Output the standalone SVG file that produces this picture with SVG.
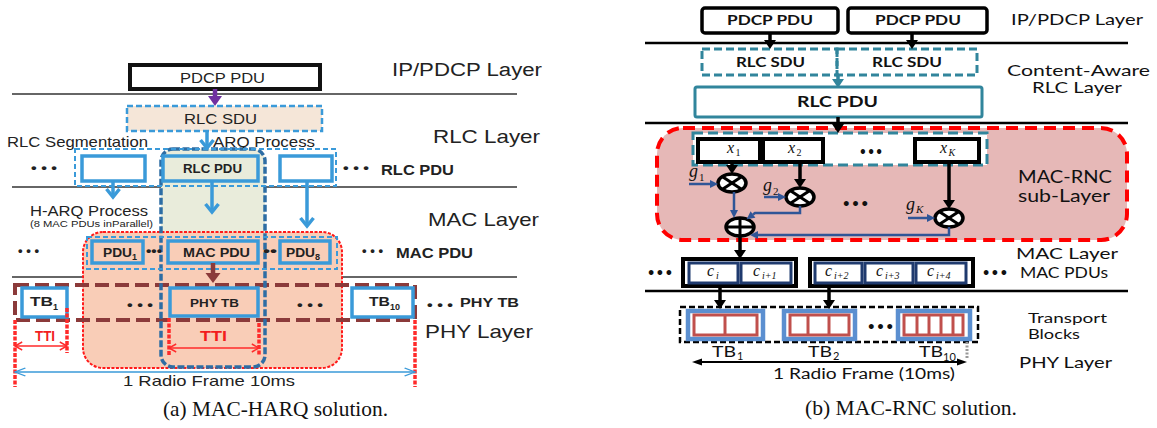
<svg xmlns="http://www.w3.org/2000/svg" width="1157" height="428" viewBox="0 0 1157 428">
<defs>
<style>
marker{overflow:visible}
.ls{font-family:"Liberation Sans",Arial,sans-serif;fill:#222}
.lb{font-family:"Liberation Sans",Arial,sans-serif;font-weight:bold;fill:#222}
.tti{font-family:"Liberation Sans",Arial,sans-serif;font-weight:bold;fill:#F21E1E}
.rs{font-family:Lato,"Liberation Sans",sans-serif;fill:#111}
.rb{font-family:Lato,"Liberation Sans",sans-serif;font-weight:bold;fill:#111}
.m{font-family:"Liberation Serif","Times New Roman",serif;font-style:italic;fill:#111}
.cap{font-family:"Liberation Serif","Times New Roman",serif;font-size:21px;fill:#111}
.lay{stroke:#333;stroke-width:1.5}
.ray{stroke:#000;stroke-width:2.5}
.bbox{fill:#fff;stroke:#3A9AD9;stroke-width:3.5}
.pbox{fill:#F9CDB7;stroke:#3A9AD9;stroke-width:3.5}
.ldash{fill:none;stroke:#3A9AD9;stroke-width:2;stroke-dasharray:5 3}
.ttim{stroke:#FF2A2A;stroke-width:3.5;stroke-dasharray:4 1.5;fill:none}
.barr{stroke:#3A9AD9;stroke-width:3.5;fill:none}
.blk{stroke:#000;stroke-width:3.5;fill:none}
.nv{stroke:#2F5597;stroke-width:2.5;fill:none}
.xb{fill:#fff;stroke:#000;stroke-width:4}
.pd{fill:#fff;stroke:#000;stroke-width:3.5}
.teal{stroke:#31859C;stroke-width:3;fill:none;stroke-dasharray:8 4}
.cb{fill:#fff;stroke:#1F3A6E;stroke-width:3}
.tbo{fill:#fff;stroke:#5B8FD0;stroke-width:4.5}
.tbr{fill:#fff;stroke:#C0504D;stroke-width:3}
.op{fill:#fff;stroke:#000;stroke-width:3.5}
.opl{stroke:#000;stroke-width:3}
</style>
<marker id="mBlueV" viewBox="0 0 12 16" refX="10" refY="8" markerWidth="12" markerHeight="16" markerUnits="userSpaceOnUse" orient="auto"><path d="M2,1.5 L10,8 L2,14.5" fill="none" stroke="#3A9AD9" stroke-width="3.5"/></marker>
<marker id="mPur" viewBox="0 0 10 10" refX="0" refY="5" markerWidth="10" markerHeight="14" preserveAspectRatio="none" markerUnits="userSpaceOnUse" orient="auto"><path d="M0,0 L10,5 L0,10z" fill="#7030A0"/></marker>
<marker id="mDR" viewBox="0 0 10 10" refX="0" refY="5" markerWidth="10" markerHeight="15" preserveAspectRatio="none" markerUnits="userSpaceOnUse" orient="auto"><path d="M0,0 L10,5 L0,10z" fill="#8B3A3A"/></marker>
<marker id="mRed" viewBox="0 0 10 10" refX="9" refY="5" markerWidth="9" markerHeight="10" preserveAspectRatio="none" markerUnits="userSpaceOnUse" orient="auto-start-reverse"><path d="M1,1 L9,5 L1,9" fill="none" stroke="#FF2A2A" stroke-width="1.5"/></marker>
<marker id="mFrame" viewBox="0 0 10 10" refX="9" refY="5" markerWidth="13" markerHeight="10" preserveAspectRatio="none" markerUnits="userSpaceOnUse" orient="auto-start-reverse"><path d="M1,1 L9,5 L1,9" fill="none" stroke="#3A9AD9" stroke-width="1.3"/></marker>
<marker id="mBlk" viewBox="0 0 10 10" refX="0" refY="5" markerWidth="9" markerHeight="12" preserveAspectRatio="none" markerUnits="userSpaceOnUse" orient="auto"><path d="M0,0 L10,5 L0,10z" fill="#000"/></marker>
<marker id="mBlkS" viewBox="0 0 10 10" refX="0" refY="5" markerWidth="10" markerHeight="7" preserveAspectRatio="none" markerUnits="userSpaceOnUse" orient="auto-start-reverse"><path d="M0,0 L10,5 L0,10z" fill="#000"/></marker>
<marker id="mTeal" viewBox="0 0 10 10" refX="0" refY="5" markerWidth="9" markerHeight="12" preserveAspectRatio="none" markerUnits="userSpaceOnUse" orient="auto"><path d="M0,0 L10,5 L0,10z" fill="#31859C"/></marker>
<marker id="mNv" viewBox="0 0 10 10" refX="0" refY="5" markerWidth="8" markerHeight="8" preserveAspectRatio="none" markerUnits="userSpaceOnUse" orient="auto"><path d="M0,0 L10,5 L0,10z" fill="#2F5597"/></marker>
</defs>
<rect width="1157" height="428" fill="#fff"/>

<!-- ===== LEFT PANEL ===== -->
<g id="left-layers">
<line x1="12" y1="94" x2="517" y2="94" class="lay"/>
<line x1="12" y1="187" x2="517" y2="187" class="lay"/>
<line x1="12" y1="277" x2="517" y2="277" class="lay"/>
<text class="ls" x="392" y="76" font-size="18" textLength="150" lengthAdjust="spacingAndGlyphs">IP/PDCP Layer</text>
<text class="ls" x="433" y="143" font-size="18.5" textLength="107" lengthAdjust="spacingAndGlyphs">RLC Layer</text>
<text class="ls" x="428" y="226" font-size="18.5" textLength="111" lengthAdjust="spacingAndGlyphs">MAC Layer</text>
<text class="ls" x="425" y="338" font-size="18.5" textLength="108" lengthAdjust="spacingAndGlyphs">PHY Layer</text>
</g>

<g id="arq-column-bg">
<rect x="161" y="149" width="104" height="218" rx="12" fill="#E9ECDB"/>
</g>
<g id="harq-region">
<rect x="83" y="232" width="259" height="136" rx="20" fill="#F9CDB7" stroke="#FF1A1A" stroke-width="2" stroke-dasharray="3 1.5"/>
</g>
<g id="phy-tb-row">
<rect x="15" y="285" width="400" height="35" fill="none" stroke="#8B3A3A" stroke-width="4" stroke-dasharray="14 6"/>
</g>
<g id="arq-column">
<rect x="161" y="149" width="104" height="218" rx="12" fill="none" stroke="#2E6DA4" stroke-width="3.5" stroke-dasharray="7 2.5"/>
</g>

<g id="pdcp-pdu-a">
<rect x="130" y="65" width="190" height="24" fill="#fff" stroke="#111" stroke-width="4"/>
<text class="ls" x="180" y="83" font-size="15" textLength="85" lengthAdjust="spacingAndGlyphs">PDCP PDU</text>
</g>
<g id="rlc-sdu-a">
<rect x="127" y="106" width="195" height="25" fill="#F5E6D8" stroke="#3A9AD9" stroke-width="2.5" stroke-dasharray="6 3"/>
<text class="ls" x="184" y="124" font-size="15" textLength="73" lengthAdjust="spacingAndGlyphs">RLC SDU</text>
</g>
<g id="labels-a">
<text class="ls" x="7" y="146.5" font-size="15" textLength="141" lengthAdjust="spacingAndGlyphs">RLC Segmentation</text>
<text class="ls" x="213" y="146.5" font-size="15" textLength="102" lengthAdjust="spacingAndGlyphs">ARQ Process</text>
<text class="ls" x="30" y="216" font-size="14" textLength="118" lengthAdjust="spacingAndGlyphs">H-ARQ Process</text>
<text class="ls" x="30" y="226.5" font-size="8.5" textLength="123" lengthAdjust="spacingAndGlyphs">(8 MAC PDUs inParallel)</text>
</g>
<g id="rlc-pdus-a">
<rect x="75" y="149" width="261" height="37" class="ldash"/>
<rect x="82" y="156" width="63" height="25" class="bbox"/>
<rect x="163" y="156" width="95" height="25" fill="#E9ECDB" stroke="#3A9AD9" stroke-width="3.5"/>
<text class="lb" x="183" y="173" font-size="12.5" textLength="59" lengthAdjust="spacingAndGlyphs">RLC PDU</text>
<rect x="280" y="156" width="52" height="25" class="bbox"/>
<text class="lb" x="31" y="171.5" font-size="12" textLength="26" lengthAdjust="spacingAndGlyphs">• • •</text>
<text class="lb" x="343" y="171.5" font-size="12" textLength="26" lengthAdjust="spacingAndGlyphs">• • •</text>
<text class="lb" x="381" y="175" font-size="14" textLength="73" lengthAdjust="spacingAndGlyphs">RLC PDU</text>
</g>
<g id="mac-pdus-a">
<rect x="87" y="237" width="250" height="32" class="ldash"/>
<rect x="92" y="241" width="51" height="22" class="pbox"/>
<text class="lb" x="103" y="257" font-size="12" textLength="29" lengthAdjust="spacingAndGlyphs">PDU</text>
<text class="lb" x="132" y="260" font-size="9">1</text>
<rect x="168" y="241" width="90" height="22" class="pbox"/>
<text class="lb" x="183" y="257" font-size="12.5" textLength="67" lengthAdjust="spacingAndGlyphs">MAC PDU</text>
<rect x="280" y="241" width="50" height="22" class="pbox"/>
<text class="lb" x="286" y="257" font-size="12" textLength="29" lengthAdjust="spacingAndGlyphs">PDU</text>
<text class="lb" x="315" y="260" font-size="9">8</text>
<text class="lb" x="18" y="254.5" font-size="12" textLength="21" lengthAdjust="spacingAndGlyphs">• • •</text>
<text class="lb" x="146" y="254.5" font-size="12" textLength="16" lengthAdjust="spacingAndGlyphs">•••</text>
<text class="lb" x="263" y="254.5" font-size="12" textLength="14" lengthAdjust="spacingAndGlyphs">••</text>
<text class="lb" x="362" y="254.5" font-size="12" textLength="21" lengthAdjust="spacingAndGlyphs">• • •</text>
<text class="lb" x="396" y="258" font-size="14" textLength="77" lengthAdjust="spacingAndGlyphs">MAC PDU</text>
</g>
<g id="phy-tbs-a">
<rect x="22" y="288" width="45" height="29" class="bbox"/>
<text class="lb" x="30" y="306" font-size="13" textLength="23" lengthAdjust="spacingAndGlyphs">TB</text>
<text class="lb" x="53" y="310" font-size="9">1</text>
<rect x="170" y="288" width="88" height="28" class="pbox"/>
<text class="lb" x="190" y="307" font-size="11.5" textLength="49" lengthAdjust="spacingAndGlyphs">PHY TB</text>
<rect x="352" y="288" width="61" height="29" class="bbox"/>
<text class="lb" x="369" y="306" font-size="13" textLength="21" lengthAdjust="spacingAndGlyphs">TB</text>
<text class="lb" x="390" y="310" font-size="9">10</text>
<text class="lb" x="127" y="308.5" font-size="12" textLength="26" lengthAdjust="spacingAndGlyphs">• • •</text>
<text class="lb" x="297" y="308.5" font-size="12" textLength="26" lengthAdjust="spacingAndGlyphs">• • •</text>
<text class="lb" x="427" y="308.5" font-size="12" textLength="26" lengthAdjust="spacingAndGlyphs">• • •</text>
<text class="lb" x="460" y="307" font-size="12" textLength="59" lengthAdjust="spacingAndGlyphs">PHY TB</text>
</g>
<g id="tti-a">
<line x1="15" y1="320" x2="15" y2="387" class="ttim"/>
<line x1="67" y1="308" x2="67" y2="353" class="ttim"/>
<line x1="169" y1="318" x2="169" y2="355" class="ttim"/>
<line x1="259" y1="323" x2="259" y2="356" class="ttim"/>
<line x1="415" y1="320" x2="415" y2="387" class="ttim"/>
<line x1="15" y1="346" x2="67" y2="346" stroke="#FF2A2A" stroke-width="1.5" marker-start="url(#mRed)" marker-end="url(#mRed)"/>
<line x1="169" y1="348" x2="259" y2="348" stroke="#FF2A2A" stroke-width="1.5" marker-start="url(#mRed)" marker-end="url(#mRed)"/>
<text class="tti" x="35" y="341" font-size="14.5" textLength="20" lengthAdjust="spacingAndGlyphs">TTI</text>
<text class="tti" x="200" y="341" font-size="15" textLength="27" lengthAdjust="spacingAndGlyphs">TTI</text>
<line x1="15" y1="372" x2="415" y2="372" stroke="#3A9AD9" stroke-width="1.3" marker-start="url(#mFrame)" marker-end="url(#mFrame)"/>
<text class="ls" x="123" y="386" font-size="15" textLength="172" lengthAdjust="spacingAndGlyphs">1 Radio Frame 10ms</text>
</g>
<g id="connectors-a">
<line x1="215" y1="89" x2="215" y2="96" stroke="#7030A0" stroke-width="4.5" marker-end="url(#mPur)"/>
<line x1="207" y1="131" x2="207" y2="148" class="barr" marker-end="url(#mBlueV)"/>
<line x1="113" y1="181" x2="113" y2="197" class="barr" marker-end="url(#mBlueV)"/>
<line x1="212" y1="181" x2="212" y2="212" class="barr" marker-end="url(#mBlueV)"/>
<line x1="307" y1="181" x2="307" y2="226" class="barr" marker-end="url(#mBlueV)"/>
<line x1="213" y1="263" x2="213" y2="273" stroke="#8B3A3A" stroke-width="4.5" marker-end="url(#mDR)"/>
</g>
<text class="cap" x="163" y="416" textLength="225" lengthAdjust="spacingAndGlyphs">(a) MAC-HARQ solution.</text>

<!-- ===== RIGHT PANEL ===== -->
<g id="right-layers">
<line x1="645" y1="43" x2="1128" y2="43" class="ray"/>
<line x1="645" y1="123" x2="1128" y2="123" class="ray"/>
<line x1="645" y1="291" x2="1128" y2="291" class="ray"/>
<text class="rs" x="1011" y="25" font-size="15" textLength="132" lengthAdjust="spacingAndGlyphs">IP/PDCP Layer</text>
<text class="rs" x="1007" y="76" font-size="16" textLength="143" lengthAdjust="spacingAndGlyphs">Content-Aware</text>
<text class="rs" x="1032" y="93" font-size="16" textLength="90" lengthAdjust="spacingAndGlyphs">RLC Layer</text>
<text class="rs" x="1016" y="259" font-size="16" textLength="102" lengthAdjust="spacingAndGlyphs">MAC Layer</text>
<text class="rs" x="1020" y="278" font-size="14.5" textLength="88" lengthAdjust="spacingAndGlyphs">MAC PDUs</text>
<text class="rs" x="1028" y="323" font-size="13" textLength="79" lengthAdjust="spacingAndGlyphs">Transport</text>
<text class="rs" x="1028" y="339" font-size="13" textLength="52" lengthAdjust="spacingAndGlyphs">Blocks</text>
<text class="rs" x="1019" y="368" font-size="16" textLength="93" lengthAdjust="spacingAndGlyphs">PHY Layer</text>
</g>
<g id="pdcp-pdu-b1">
<rect x="702" y="8" width="136" height="25" rx="3" class="pd"/>
<text class="rb" x="727" y="25" font-size="14" textLength="86" lengthAdjust="spacingAndGlyphs">PDCP PDU</text>
</g>
<g id="pdcp-pdu-b2">
<rect x="848" y="8" width="139" height="25" rx="3" class="pd"/>
<text class="rb" x="875" y="25" font-size="14" textLength="86" lengthAdjust="spacingAndGlyphs">PDCP PDU</text>
</g>
<g id="rlc-sdu-b1">
<rect x="702" y="49" width="135" height="26" class="teal"/>
<text class="rb" x="736" y="67" font-size="13.5" textLength="69" lengthAdjust="spacingAndGlyphs">RLC SDU</text>
</g>
<g id="rlc-sdu-b2">
<rect x="837" y="49" width="140" height="26" class="teal"/>
<text class="rb" x="872" y="67" font-size="13.5" textLength="70" lengthAdjust="spacingAndGlyphs">RLC SDU</text>
</g>
<g id="rlc-pdu-b">
<rect x="695" y="87" width="287" height="30" rx="2" fill="#fff" stroke="#31859C" stroke-width="3"/>
<text class="rb" x="797" y="107" font-size="16" textLength="81" lengthAdjust="spacingAndGlyphs">RLC PDU</text>
</g>
<g id="mac-rnc-region">
<rect x="657" y="128" width="470" height="112" rx="26" fill="#E6B8B7" stroke="#FF0000" stroke-width="4" stroke-dasharray="12 7"/>
<text class="rs" x="1018" y="183" font-size="16.5" textLength="94" lengthAdjust="spacingAndGlyphs">MAC-RNC</text>
<text class="rs" x="1018" y="202" font-size="16.5" textLength="92" lengthAdjust="spacingAndGlyphs">sub-Layer</text>
</g>
<g id="x-group">
<rect x="693" y="133" width="294" height="32" fill="#fff" stroke="#31859C" stroke-width="3" stroke-dasharray="10 5"/>
<text class="rb" x="860" y="154.5" font-size="12" textLength="22" lengthAdjust="spacingAndGlyphs">• • •</text>
</g>
<g id="x1">
<rect x="698" y="139" width="62" height="23" class="xb"/>
<text class="m" x="727" y="153" font-size="16">x</text>
<text class="m" x="735.5" y="156" font-size="10" style="font-style:normal">1</text>
</g>
<g id="x2">
<rect x="763" y="139" width="60" height="23" class="xb"/>
<text class="m" x="788" y="153" font-size="16">x</text>
<text class="m" x="796.5" y="156" font-size="10" style="font-style:normal">2</text>
</g>
<g id="xK">
<rect x="915" y="139" width="64" height="23" class="xb"/>
<text class="m" x="940" y="153" font-size="16">x</text>
<text class="m" x="948.5" y="156" font-size="10">K</text>
</g>
<g id="mul1">
<ellipse cx="732" cy="183" rx="14" ry="9" class="op"/>
<line x1="722.1" y1="176.6" x2="741.9" y2="189.4" class="opl"/>
<line x1="722.1" y1="189.4" x2="741.9" y2="176.6" class="opl"/>
</g>
<g id="mul2">
<ellipse cx="800" cy="197" rx="14" ry="9" class="op"/>
<line x1="790.1" y1="190.6" x2="809.9" y2="203.4" class="opl"/>
<line x1="790.1" y1="203.4" x2="809.9" y2="190.6" class="opl"/>
</g>
<g id="mulK">
<ellipse cx="949" cy="218" rx="14" ry="9" class="op"/>
<line x1="939.1" y1="211.6" x2="958.9" y2="224.4" class="opl"/>
<line x1="939.1" y1="224.4" x2="958.9" y2="211.6" class="opl"/>
</g>
<g id="adder">
<ellipse cx="740" cy="227" rx="14" ry="9" class="op"/>
<line x1="726" y1="227" x2="754" y2="227" class="opl"/>
<line x1="740" y1="218" x2="740" y2="236" class="opl"/>
</g>
<g id="g-labels">
<text class="m" x="689" y="177" font-size="18">g</text>
<text class="m" x="699" y="181" font-size="11" style="font-style:normal">1</text>
<text class="m" x="763" y="191" font-size="18">g</text>
<text class="m" x="773" y="195" font-size="11" style="font-style:normal">2</text>
<text class="m" x="906" y="210" font-size="18">g</text>
<text class="m" x="916" y="213" font-size="11">K</text>
<text class="rb" x="843" y="206.5" font-size="12" textLength="25" lengthAdjust="spacingAndGlyphs">• • •</text>
</g>
<g id="mac-pdus-b1">
<rect x="683" y="259" width="113" height="27" class="xb"/>
<rect x="689" y="263" width="49" height="20" class="cb"/>
<rect x="741" y="263" width="50" height="20" class="cb"/>
<text class="m" x="707" y="276" font-size="16">c</text>
<text class="m" x="716" y="279" font-size="10">i</text>
<text class="m" x="753" y="276" font-size="16">c</text>
<text class="m" x="762" y="279" font-size="10">i+1</text>
</g>
<g id="mac-pdus-b2">
<rect x="810" y="259" width="163" height="27" class="xb"/>
<rect x="815" y="263" width="47" height="20" class="cb"/>
<rect x="865" y="263" width="48" height="20" class="cb"/>
<rect x="916" y="263" width="50" height="20" class="cb"/>
<text class="m" x="825" y="276" font-size="16">c</text>
<text class="m" x="834" y="279" font-size="10">i+2</text>
<text class="m" x="876" y="276" font-size="16">c</text>
<text class="m" x="885" y="279" font-size="10">i+3</text>
<text class="m" x="927" y="276" font-size="16">c</text>
<text class="m" x="936" y="279" font-size="10">i+4</text>
</g>
<g id="mac-dots-b">
<text class="rb" x="648" y="276" font-size="12" textLength="24" lengthAdjust="spacingAndGlyphs">• • •</text>
<text class="rb" x="983" y="276" font-size="12" textLength="24" lengthAdjust="spacingAndGlyphs">• • •</text>
</g>
<g id="transport-blocks">
<rect x="680" y="307" width="298" height="35" fill="none" stroke="#000" stroke-width="2.5" stroke-dasharray="6 3"/>
<text class="rb" x="868" y="329.5" font-size="12" textLength="25" lengthAdjust="spacingAndGlyphs">• • •</text>
</g>
<g id="tb1-b">
<rect x="688" y="311" width="75" height="28" class="tbo"/>
<rect x="694" y="315" width="63" height="20" class="tbr"/>
<line x1="725" y1="315" x2="725" y2="335" stroke="#C0504D" stroke-width="3"/>
<text class="rs" x="712" y="357" font-size="15" textLength="24" lengthAdjust="spacingAndGlyphs">TB</text>
<text class="rs" x="737" y="360" font-size="11">1</text>
</g>
<g id="tb2-b">
<rect x="784" y="311" width="71" height="28" class="tbo"/>
<rect x="790" y="315" width="59" height="20" class="tbr"/>
<line x1="808" y1="315" x2="808" y2="335" stroke="#C0504D" stroke-width="3"/>
<line x1="829" y1="315" x2="829" y2="335" stroke="#C0504D" stroke-width="3"/>
<text class="rs" x="808" y="357" font-size="15" textLength="24" lengthAdjust="spacingAndGlyphs">TB</text>
<text class="rs" x="833" y="360" font-size="11">2</text>
</g>
<g id="tb10-b">
<rect x="898" y="311" width="72" height="28" class="tbo"/>
<rect x="904" y="315" width="59" height="20" class="tbr"/>
<line x1="917" y1="315" x2="917" y2="335" stroke="#C0504D" stroke-width="3"/>
<line x1="929" y1="315" x2="929" y2="335" stroke="#C0504D" stroke-width="3"/>
<line x1="941" y1="315" x2="941" y2="335" stroke="#C0504D" stroke-width="3"/>
<line x1="953" y1="315" x2="953" y2="335" stroke="#C0504D" stroke-width="3"/>
<text class="rs" x="919" y="357" font-size="15" textLength="24" lengthAdjust="spacingAndGlyphs">TB</text>
<text class="rs" x="943" y="361" font-size="11">10</text>
</g>
<g id="frame-b">
<line x1="967" y1="342" x2="967" y2="358" stroke="#999" stroke-width="3" stroke-dasharray="2 1.5"/>
<line x1="702" y1="362" x2="957" y2="362" stroke="#000" stroke-width="2" marker-start="url(#mBlkS)" marker-end="url(#mBlkS)"/>
<text class="rs" x="773" y="379" font-size="14.5" textLength="182" lengthAdjust="spacingAndGlyphs">1 Radio Frame (10ms)</text>
</g>
<g id="connectors-b">
<line x1="770" y1="33" x2="770" y2="40" class="blk" marker-end="url(#mBlk)"/>
<line x1="912" y1="33" x2="912" y2="40" class="blk" marker-end="url(#mBlk)"/>
<line x1="838" y1="76" x2="838" y2="79" stroke="#31859C" stroke-width="3.5" marker-end="url(#mTeal)"/>
<line x1="838" y1="117" x2="838" y2="124" class="blk" marker-end="url(#mBlk)"/>
<line x1="732" y1="162" x2="732" y2="165" class="blk" marker-end="url(#mBlk)"/>
<line x1="800" y1="162" x2="800" y2="179" class="blk" marker-end="url(#mBlk)"/>
<line x1="949" y1="162" x2="949" y2="200" class="blk" marker-end="url(#mBlk)"/>
<line x1="689" y1="184" x2="710" y2="184" class="nv" marker-end="url(#mNv)"/>
<line x1="764" y1="197" x2="778" y2="197" class="nv" marker-end="url(#mNv)"/>
<line x1="908" y1="218" x2="927" y2="218" class="nv" marker-end="url(#mNv)"/>
<line x1="734" y1="192" x2="734" y2="210" class="nv" marker-end="url(#mNv)"/>
<path d="M800,206 V213 H755 L753,214.5" class="nv" marker-end="url(#mNv)"/>
<path d="M949,227 V235 H758" class="nv" marker-end="url(#mNv)"/>
<line x1="740" y1="236" x2="740" y2="250" class="blk" marker-end="url(#mBlk)"/>
<line x1="720" y1="286" x2="720" y2="300" class="blk" marker-end="url(#mBlk)"/>
<line x1="829" y1="286" x2="829" y2="300" class="blk" marker-end="url(#mBlk)"/>
</g>
<text class="cap" x="805" y="415" textLength="212" lengthAdjust="spacingAndGlyphs">(b) MAC-RNC solution.</text>
</svg>
